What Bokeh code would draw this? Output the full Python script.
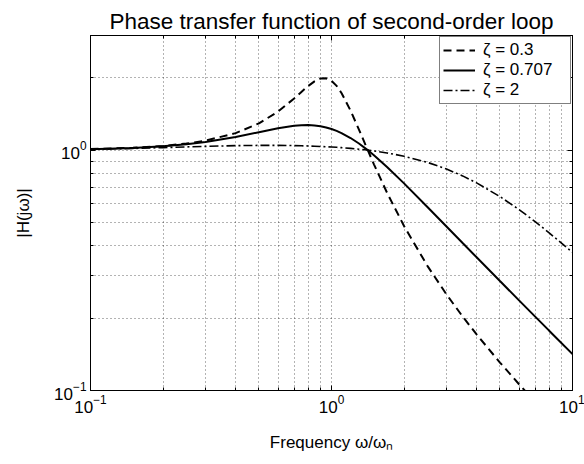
from bokeh.plotting import figure
from bokeh.models import LogAxis, FixedTicker, Legend, LegendItem
from bokeh.embed import file_html
from bokeh.resources import INLINE

# normalized frequency omega/omega_n
freq = [0.1, 0.15, 0.2, 0.25, 0.3, 0.4, 0.5, 0.6, 0.7, 0.75, 0.8, 0.85, 0.9, 0.95,
        1.0, 1.05, 1.1, 1.2, 1.3, 1.4, 1.5, 1.7, 2.0, 2.5, 3.0, 3.5, 4.0, 5.0,
        6.0, 7.0, 8.0, 10.0]
# |H(j omega)|
h_zeta_03 = [1.0101, 1.0228, 1.0410, 1.0651, 1.0953, 1.1772, 1.2925, 1.4474, 1.6417, 1.7472,
             1.8487, 1.9334, 1.9853, 1.9905, 1.9437, 1.8517, 1.7300, 1.4603, 1.2178, 1.0238,
             0.8734, 0.6651, 0.4834, 0.3302, 0.2511, 0.2032, 0.1712, 0.1307, 0.1062, 0.0896,
             0.0776, 0.0613]
h_zeta_0707 = [1.0099, 1.0220, 1.0384, 1.0586, 1.0819, 1.1345, 1.1882, 1.2340, 1.2636, 1.2705,
               1.2718, 1.2675, 1.2578, 1.2433, 1.2247, 1.2028, 1.1781, 1.1235, 1.0658, 1.0081,
               0.9525, 0.8515, 0.7276, 0.5805, 0.4814, 0.4109, 0.3583, 0.2854, 0.2372, 0.2030,
               0.1774, 0.1418]
h_zeta_2 = [1.0087, 1.0168, 1.0248, 1.0317, 1.0372, 1.0441, 1.0468, 1.0468, 1.0447, 1.0430,
            1.0411, 1.0388, 1.0364, 1.0337, 1.0308, 1.0276, 1.0243, 1.0172, 1.0095, 1.0012,
            0.9925, 0.9738, 0.9436, 0.8898, 0.8349, 0.7815, 0.7310, 0.6410, 0.5660, 0.5042,
            0.4531, 0.3753]

legend_labels = ["ζ = 0.3", "ζ = 0.707", "ζ = 2"]
title_text = "Phase transfer function of second-order loop"

x_major = [0.1, 1, 10]
x_minor = [0.2, 0.3, 0.4, 0.5, 0.6, 0.7, 0.8, 0.9, 2, 3, 4, 5, 6, 7, 8, 9]
y_major = [0.1, 1]
y_minor = [0.2, 0.3, 0.4, 0.5, 0.6, 0.7, 0.8, 0.9, 2, 3]

FONT = "Liberation Sans"

p = figure(frame_width=482, frame_height=355,
           min_border_left=90, min_border_right=12, min_border_top=35, min_border_bottom=74,
           x_axis_type="log", y_axis_type="log",
           x_range=(0.1, 10), y_range=(0.1, 3),
           output_backend="svg", toolbar_location=None, title=title_text)

p.title.text_font = FONT
p.title.text_font_size = "22.5px"
p.title.text_font_style = "normal"
p.title.text_color = "black"
p.title.align = "center"
p.title.text_line_height = 0.8
p.title.standoff = 3
p.outline_line_color = "black"
p.outline_line_width = 1
p.background_fill_color = "white"
p.border_fill_color = "white"

xt = FixedTicker(ticks=x_major, minor_ticks=x_minor)
yt = FixedTicker(ticks=y_major, minor_ticks=y_minor)

p.xaxis.ticker = xt
p.yaxis.ticker = yt
p.xaxis.axis_label = "Frequency ω/ωₙ"
p.yaxis.axis_label = "|H(jω)|"

for ax in [p.xaxis[0], p.yaxis[0]]:
    ax.axis_label_text_font = FONT
    ax.axis_label_text_font_size = "17px"
    ax.axis_label_text_font_style = "normal"
    ax.axis_label_text_color = "black"
    ax.major_label_text_font = FONT
    ax.major_label_text_font_size = "17px"
    ax.major_label_text_color = "black"
    ax.axis_line_color = "black"
    ax.major_tick_in = 5
    ax.major_tick_out = 0
    ax.minor_tick_in = 3
    ax.minor_tick_out = 0
    ax.major_tick_line_color = "black"
    ax.minor_tick_line_color = "black"
    ax.major_label_standoff = 4
p.xaxis.axis_label_standoff = 17
p.yaxis.axis_label_standoff = 18

for loc, tk in [("above", xt), ("right", yt)]:
    ax = LogAxis(ticker=tk, major_label_text_font_size="1px", major_label_text_color=None,
                 major_label_standoff=0,
                 axis_line_color="black", major_tick_in=5, major_tick_out=0,
                 minor_tick_in=3, minor_tick_out=0,
                 major_tick_line_color="black", minor_tick_line_color="black")
    p.add_layout(ax, loc)

for g in [p.xgrid[0], p.ygrid[0]]:
    g.grid_line_color = "black"
    g.grid_line_alpha = 0.6
    g.grid_line_dash = "1 3"
    g.grid_line_width = 1
    g.minor_grid_line_color = "black"
    g.minor_grid_line_alpha = 0.6
    g.minor_grid_line_dash = "1 3"
    g.minor_grid_line_width = 1

r1 = p.line(freq, h_zeta_03, line_color="black", line_width=2, line_dash="8 5")
r2 = p.line(freq, h_zeta_0707, line_color="black", line_width=2)
r3 = p.line(freq, h_zeta_2, line_color="black", line_width=1.6, line_dash="9 3 2 3")

legend = Legend(items=[LegendItem(label=legend_labels[0], renderers=[r1]),
                       LegendItem(label=legend_labels[1], renderers=[r2]),
                       LegendItem(label=legend_labels[2], renderers=[r3])],
                location="top_right")
legend.label_text_font = FONT
legend.label_text_font_size = "17px"
legend.label_text_color = "black"
legend.border_line_color = "black"
legend.border_line_width = 1
legend.background_fill_alpha = 1
legend.margin = 1
legend.padding = 3
legend.spacing = 0
legend.glyph_width = 32
legend.glyph_height = 18
legend.label_height = 18
legend.label_width = 84
legend.label_standoff = 8
p.add_layout(legend, "center")

open("out.html", "w").write(file_html(p, INLINE))
